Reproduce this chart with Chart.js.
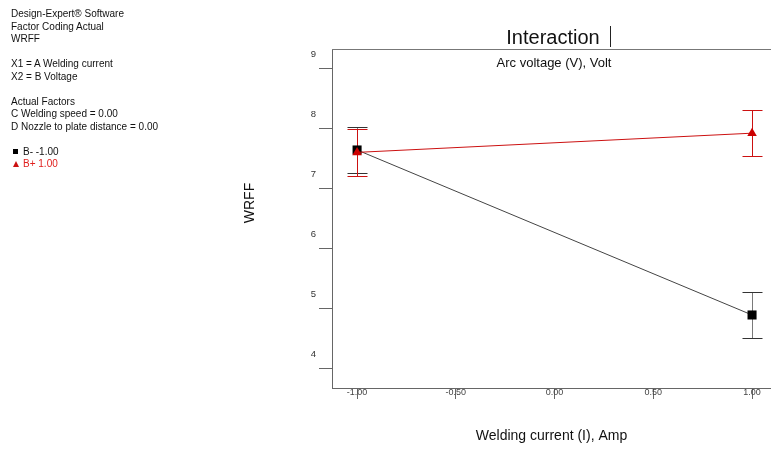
<!DOCTYPE html>
<html>
<head>
<meta charset="utf-8">
<script src="https://cdn.jsdelivr.net/npm/chart.js@4/dist/chart.umd.min.js"></script>
<style>
  html, body { margin: 0; padding: 0; background: #fff; overflow: hidden; }
  #wrap { position: relative; width: 771px; height: 449px; }
  #info {
    position: absolute; left: 11px; top: 8px;
    font: 10px Arial, "Liberation Sans", sans-serif; line-height: 12.5px; color: #111;
    white-space: pre;
  }
  .sq { display: inline-block; width: 5px; height: 5px; background: #000; margin: 0 5px 1px 2px; }
  .tri { display: inline-block; width: 0; height: 0; border-left: 3px solid transparent; border-right: 3px solid transparent;
         border-bottom: 6px solid #cc1111; margin: 0 4px 0 2px; }
  .red { color: #e0201e; }
</style>
</head>
<body>
<div id="wrap">
  <canvas id="chart" width="771" height="449"></canvas>
  <div id="info">Design-Expert® Software
Factor Coding Actual
WRFF

X1 = A Welding current
X2 = B Voltage

Actual Factors
C Welding speed = 0.00
D Nozzle to plate distance = 0.00

<span class="sq"></span>B- -1.00
<span class="red"><span class="tri"></span>B+ 1.00</span></div>
</div>
<script>
// factor A levels (coded) and predicted WRFF for each level of B
var current   = [-1, 1]
var bLowMean  = [7.65, 4.90]
var bLowErr   = [0.39, 0.38]
var bHighMean = [7.61, 7.93]
var bHighErr  = [0.39, 0.38]
var xTicks = [-1, -0.5, 0, 0.5, 1]
var yTicks = [4, 5, 6, 7, 8, 9]

function points(ys) {
  var out = []
  for (var i = 0; i < current.length; i++) out.push({x: current[i], y: ys[i]})
  return out
}

// LSD style bars: vertical stem with caps, drawn under the markers
var errorBars = {
  id: 'errorBars',
  beforeDatasetsDraw: function(chart) {
    var ctx = chart.ctx
    var xs = chart.scales.x, ys = chart.scales.y
    var sets = [
      {mean: bLowMean, err: bLowErr, color: '#7a7a7a', cap: '#333'},
      {mean: bHighMean, err: bHighErr, color: '#cc1111', cap: '#cc1111'}
    ]
    ctx.save()
    ctx.lineWidth = 1
    sets.forEach(function(s) {
      for (var i = 0; i < current.length; i++) {
        var px = Math.round(xs.getPixelForValue(current[i])) + 0.5
        var top = Math.round(ys.getPixelForValue(s.mean[i] + s.err[i])) + 0.5
        var bot = Math.round(ys.getPixelForValue(s.mean[i] - s.err[i])) + 0.5
        ctx.strokeStyle = s.color
        ctx.beginPath(); ctx.moveTo(px, top); ctx.lineTo(px, bot); ctx.stroke()
        ctx.strokeStyle = s.cap
        ctx.beginPath()
        ctx.moveTo(px - 10, top); ctx.lineTo(px + 10, top)
        ctx.moveTo(px - 10, bot); ctx.lineTo(px + 10, bot)
        ctx.stroke()
      }
    })
    ctx.restore()
  }
}

// frame top edge, headings and the WRFF axis label
var decor = {
  id: 'decor',
  afterDraw: function(chart) {
    var ctx = chart.ctx, a = chart.chartArea
    ctx.save()
    ctx.strokeStyle = '#777'
    ctx.lineWidth = 1
    ctx.beginPath(); ctx.moveTo(a.left, a.top + 0.5); ctx.lineTo(a.right, a.top + 0.5); ctx.stroke()

    ctx.fillStyle = '#111'
    ctx.textAlign = 'center'
    ctx.textBaseline = 'middle'
    ctx.font = '20px Arial, "Liberation Sans", sans-serif'
    ctx.fillText('Interaction', 553, 38)
    ctx.strokeStyle = '#222'
    ctx.beginPath(); ctx.moveTo(610.5, 26); ctx.lineTo(610.5, 47); ctx.stroke()

    ctx.font = '13px Arial, "Liberation Sans", sans-serif'
    ctx.fillText('Arc voltage (V), Volt', 554, 63)

    ctx.translate(250, 203)
    ctx.rotate(-Math.PI / 2)
    ctx.font = '14px Arial, "Liberation Sans", sans-serif'
    ctx.fillText('WRFF', 0, 0)
    ctx.restore()
  }
}

var ctx = document.getElementById('chart')
var chart = new Chart(ctx, {
  type: 'line',
  data: {
    datasets: [{
      label: 'B- -1.00',
      order: 1,
      data: points(bLowMean),
      borderColor: '#444',
      borderWidth: 1,
      pointStyle: 'rect',
      pointRadius: 6.4,
      pointBackgroundColor: '#000',
      pointBorderColor: '#000',
      pointBorderWidth: 0
    }, {
      label: 'B+ 1.00',
      order: 0,
      data: points(bHighMean),
      borderColor: '#cc1111',
      borderWidth: 1,
      pointStyle: 'triangle',
      pointRadius: 5.5,
      pointBackgroundColor: '#cc0000',
      pointBorderColor: '#cc0000',
      pointBorderWidth: 0
    }]
  },
  options: {
    responsive: false,
    animation: false,
    layout: { autoPadding: false, padding: { left: 237, top: 49, right: 0, bottom: 0 } },
    plugins: { legend: { display: false }, title: { display: false }, tooltip: { enabled: false } },
    scales: {
      x: {
        type: 'linear',
        min: -1.127,
        max: 1.096,
        afterFit: function(s) { s.height = 61; s.paddingLeft = 0; s.paddingRight = 0 },
        afterBuildTicks: function(s) { s.ticks = xTicks.map(function(v) { return {value: v} }) },
        border: { color: '#666', width: 1 },
        grid: { drawOnChartArea: false, tickLength: 11, color: '#666' },
        ticks: {
          padding: -12,
          color: '#444',
          font: { family: 'Arial, "Liberation Sans", sans-serif', size: 9 },
          callback: function(v) { return v.toFixed(2) }
        },
        title: {
          display: true,
          text: 'Welding current (I), Amp',
          color: '#111',
          font: { family: 'Arial, "Liberation Sans", sans-serif', size: 14 },
          padding: { top: 4, bottom: 4 }
        }
      },
      y: {
        type: 'linear',
        min: 3.683,
        max: 9.333,
        afterFit: function(s) { s.width = 95; s.paddingTop = 0; s.paddingBottom = 0 },
        afterBuildTicks: function(s) { s.ticks = yTicks.map(function(v) { return {value: v} }) },
        border: { color: '#666', width: 1 },
        grid: { drawOnChartArea: false, tickLength: 13, color: '#666' },
        ticks: {
          padding: 3,
          labelOffset: -15,
          color: '#333',
          font: { family: 'Arial, "Liberation Sans", sans-serif', size: 9.5 },
          callback: function(v) { return String(v) }
        }
      }
    }
  },
  plugins: [errorBars, decor]
})
</script>
</body>
</html>
